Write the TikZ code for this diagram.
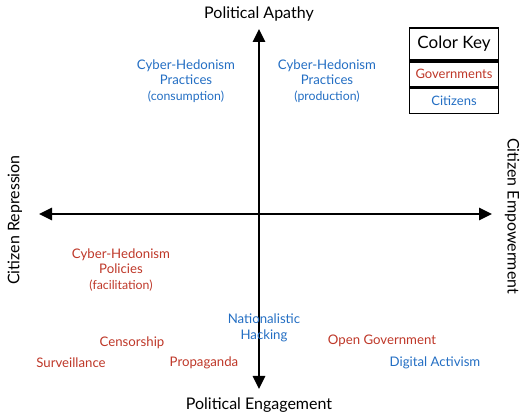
\documentclass[tikz,border=0pt]{standalone}
\usepackage{fontspec}
\setmainfont{Lato}
\usetikzlibrary{arrows.meta}
\definecolor{govred}{RGB}{190,55,40}
\definecolor{citblue}{RGB}{35,110,195}
\tikzset{
    axis/.style={line width=2.8pt, {Triangle[length=13pt,width=12pt]}-{Triangle[length=13pt,width=12pt]}},
    axislabel/.style={font=\fontsize{16}{18}\selectfont},
    gov/.style={text=govred, align=center, font=\fontsize{13.2}{15.8}\selectfont},
    cit/.style={text=citblue, align=center, font=\fontsize{13.2}{15.8}\selectfont},
    keyrow/.style={draw, line width=1.8pt, minimum width=89pt, inner sep=0pt}
}
\newcommand{\smalltext}[1]{{\fontsize{12.3}{13}\selectfont #1}}

\begin{document}
\begin{tikzpicture}[x=1pt,y=-1pt]
    \useasboundingbox (0,0) rectangle (528,419);

    % axes
    \coordinate (TOP) at (259,29);
    \coordinate (BOTTOM) at (259,389);
    \coordinate (LEFT) at (39,214);
    \coordinate (RIGHT) at (492,214);
    \draw[axis] (BOTTOM) -- (TOP);
    \draw[axis] (LEFT) -- (RIGHT);

    \node[axislabel] (APATHY) at (259,14) {Political Apathy};
    \node[axislabel] (ENGAGE) at (259,405) {Political Engagement};
    \node[axislabel, rotate=90] (REPRESS) at (15,220) {Citizen Repression};
    \node[axislabel, rotate=-90] (EMPOWER) at (512,216) {Citizen Empowerment};

    % color key
    \node[keyrow, minimum height=32pt, font=\fontsize{17}{19}\selectfont] (KEY) at (454,44) {Color Key};
    \node[keyrow, minimum height=25pt, anchor=north, text=govred, font=\fontsize{13}{15}\selectfont] (KEYGOV) at (KEY.south) {Governments};
    \node[keyrow, minimum height=25pt, anchor=north, text=citblue, font=\fontsize{13}{15}\selectfont] (KEYCIT) at (KEYGOV.south) {Citizens};

    % quadrant labels
    \node[cit] (CONSUME) at (186,81) {Cyber-Hedonism\\Practices\\\smalltext{(consumption)}};
    \node[cit] (PRODUCE) at (327,81) {Cyber-Hedonism\\Practices\\\smalltext{(production)}};
    \node[gov] (POLICY) at (121,270) {Cyber-Hedonism\\Policies\\\smalltext{(facilitation)}};
    \node[cit] (HACK) at (264,328) {Nationalistic\\Hacking};
    \node[gov] (CENSOR) at (132,343) {Censorship};
    \node[gov] (SURV) at (71,363) {Surveillance};
    \node[gov] (PROP) at (204,363) {Propaganda};
    \node[gov] (OPENGOV) at (382,341) {Open Government};
    \node[cit] (ACTIV) at (435,363) {Digital Activism};
\end{tikzpicture}
\end{document}
